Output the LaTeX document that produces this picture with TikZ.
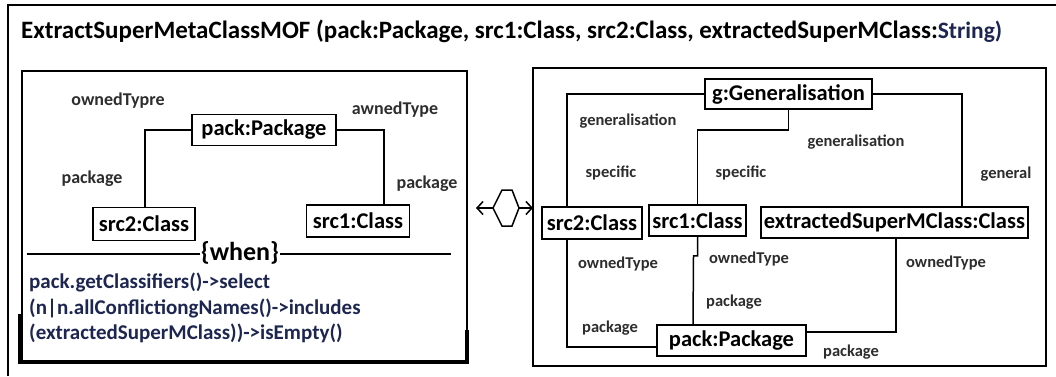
\documentclass[tikz,border=0pt]{standalone}
\usepackage{fontspec}
\setmainfont{Carlito}
\usepackage{tikz}
\usetikzlibrary{arrows.meta}
\definecolor{navy}{RGB}{28,38,80}
\definecolor{rolegray}{RGB}{45,45,45}

\begin{document}
\begin{tikzpicture}[x=1pt,y=-1pt,
    obj/.style={draw,line width=1.8pt,inner sep=0pt,font=\fontsize{22.5}{24}\selectfont\bfseries},
    role/.style={inner sep=0pt,text=rolegray,font=\fontsize{16.5}{18}\selectfont\bfseries},
    lrole/.style={role,font=\fontsize{18}{20}\selectfont\bfseries},
    link/.style={line width=1.5pt},
    frame/.style={line width=1.6pt}]
  \useasboundingbox (0,0) rectangle (1056,376);

  % Outer frame and title
  \draw[frame] (8,376) -- (8,5) -- (1056,5);
  \node[anchor=west,inner sep=0pt,font=\fontsize{25}{27}\selectfont\bfseries] (title) at (21,31)
    {ExtractSuperMetaClassMOF (pack:Package, src1:Class, src2:Class, extractedSuperMClass:{\color{navy}\fontsize{23.5}{26}\selectfont String)}};

  % Left pattern
  \draw[frame] (22,71) rectangle (467,362);
  \draw[line width=3.5pt] (20,314) -- (20,362) -- (467,362) -- (467,330);
  \node[obj,minimum width=144,minimum height=31] (lpack) at (264,130) {pack:Package};
  \node[obj,minimum width=102,minimum height=33] (lsrc2) at (144,224) {src2:Class};
  \node[obj,minimum width=103,minimum height=32] (lsrc1) at (358,221) {src1:Class};
  \draw[link] (lpack.west) -| ([xshift=1pt]lsrc2.north);
  \draw[link] (lpack.east) -| ([xshift=26pt]lsrc1.north);
  \node[lrole] (lown2) at (118,101) {ownedTypre};
  \node[lrole] (lown1) at (395,110) {awnedType};
  \node[lrole] (lpkg2) at (92,179) {package};
  \node[lrole] (lpkg1) at (427,184) {package};

  % when clause
  \draw[link] (27,254) -- (451,254);
  \node[fill=white,inner sep=1pt,font=\fontsize{26}{28}\selectfont\bfseries] (when) at (240,253) {\{when\}};
  \node[anchor=north west,align=left,inner sep=0pt,text=navy,
    font=\fontsize{21}{25.5}\selectfont\bfseries] (ocl) at (29,273)
    {pack.getClassifiers()->select\\(n|n.allConflictiongNames()->includes\\(extractedSuperMClass))->isEmpty()};

  % Hexagon with arrows
  \draw[link] (502,190) -- (512,190) -- (519,208) -- (512,226) -- (502,226) -- (493,208) -- cycle;
  \coordinate (hexl) at (493,208);
  \coordinate (hexr) at (519,208);
  \coordinate (lend) at (476,208);
  \coordinate (rend) at (533,208);
  \draw[link,-{Straight Barb[length=6pt,width=13pt]}] (hexl) -- (lend);
  \draw[link,-{Straight Barb[length=6pt,width=13pt]}] (hexr) -- (rend);

  % Right pattern
  \draw[frame] (533,68) rectangle (1046,366);
  \node[obj,minimum width=167,minimum height=30] (gen) at (788.5,94) {g:Generalisation};
  \node[obj,minimum width=100,minimum height=32] (rsrc2) at (592,223) {src2:Class};
  \node[obj,minimum width=97,minimum height=31] (rsrc1) at (697.5,220.5) {src1:Class};
  \node[obj,minimum width=267,minimum height=31] (extr) at (894.5,222.5) {extractedSuperMClass:Class};
  \node[obj,minimum width=149,minimum height=31] (rpack) at (731.5,340.5) {pack:Package};

  \draw[link] (gen.west) -| ([xshift=-25pt]rsrc2.north);
  \draw[link] (gen.east) -| ([xshift=67.5pt]extr.north);
  \draw[link] (gen.south) -- ++(0,20) -| (rsrc1.north);
  \draw[link] ([xshift=-25pt]rsrc2.south) |- ([yshift=-6.5pt]rpack.west);
  \draw[link] (rsrc1.south) -- ++(0,19) -- ++(-4,0) -- ([xshift=-38.5pt]rpack.north);
  \draw[link] ([xshift=1.5pt]extr.south) |- ([yshift=8.5pt]rpack.east);

  \node[role] (gen1) at (628,121) {generalisation};
  \node[role] (gen2) at (856,142) {generalisation};
  \node[role] (spec2) at (611,173) {specific};
  \node[role] (spec1) at (741,173) {specific};
  \node[role] (genl) at (1006,174) {general};
  \node[role] (own2) at (618,264) {ownedType};
  \node[role] (own1) at (749,259) {ownedType};
  \node[role] (own3) at (946,263) {ownedType};
  \node[role] (pkg1) at (734,302) {package};
  \node[role] (pkg2) at (610,328) {package};
  \node[role] (pkg3) at (851,352) {package};
\end{tikzpicture}
\end{document}
